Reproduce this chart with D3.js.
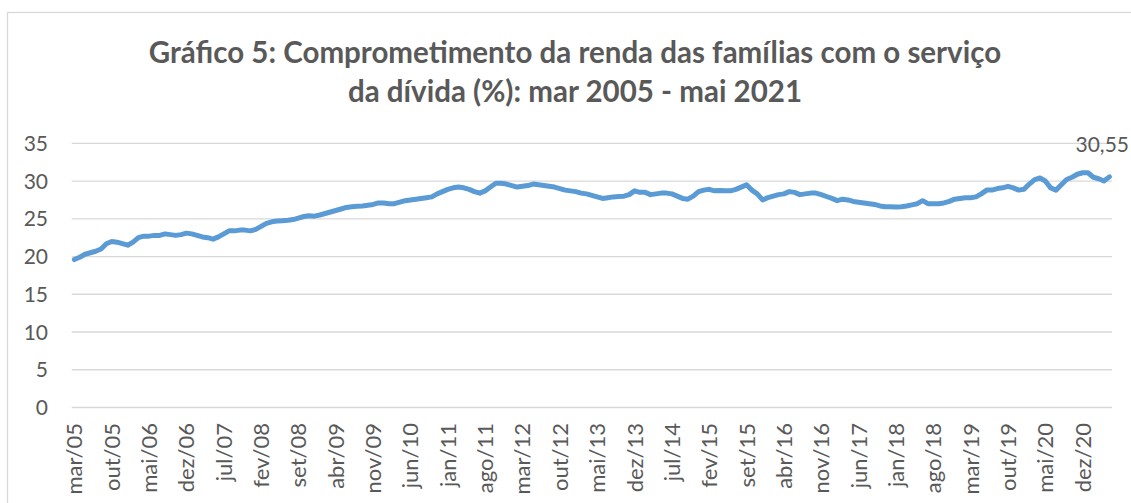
<!DOCTYPE html>
<html lang="pt">
<head>
<meta charset="UTF-8"/>
<title>Gráfico 5</title>
<script src="https://d3js.org/d3.v7.min.js"></script>
<style>
    body { margin: 0; background: #fff; }
    svg text { font-family: Lato, "Open Sans", sans-serif; fill: #595959; }
</style>
</head>
<body>
<script>
    var w = 1131;
    var h = 503;

    var months = ["jan","fev","mar","abr","mai","jun","jul","ago","set","out","nov","dez"];

    // comprometimento (%) por ano, mar/05 .. mai/21
    var v2005 = [19.6, 19.9, 20.3, 20.5, 20.7, 21.0, 21.7, 22.0, 21.9, 21.7];
    var v2006 = [21.5, 21.9, 22.5, 22.7, 22.7, 22.8, 22.8, 23.0, 22.9, 22.8, 22.9, 23.1];
    var v2007 = [23.0, 22.8, 22.6, 22.5, 22.3, 22.6, 23.0, 23.4, 23.4, 23.5, 23.5, 23.4];
    var v2008 = [23.6, 24.0, 24.4, 24.6, 24.7, 24.75, 24.8, 24.9, 25.1, 25.3, 25.4, 25.35];
    var v2009 = [25.5, 25.7, 25.9, 26.1, 26.3, 26.5, 26.6, 26.65, 26.7, 26.8, 26.9, 27.1];
    var v2010 = [27.1, 27.0, 27.0, 27.2, 27.4, 27.5, 27.6, 27.7, 27.8, 27.9, 28.3, 28.6];
    var v2011 = [28.9, 29.1, 29.2, 29.1, 28.9, 28.6, 28.4, 28.7, 29.2, 29.7, 29.7, 29.6];
    var v2012 = [29.4, 29.2, 29.3, 29.4, 29.6, 29.5, 29.4, 29.3, 29.2, 29.0, 28.8, 28.7];
    var v2013 = [28.6, 28.4, 28.3, 28.1, 27.9, 27.7, 27.8, 27.9, 27.95, 28.0, 28.2, 28.7];
    var v2014 = [28.5, 28.5, 28.2, 28.3, 28.4, 28.4, 28.3, 28.0, 27.7, 27.6, 28.0, 28.6];
    var v2015 = [28.8, 28.9, 28.7, 28.75, 28.7, 28.7, 28.9, 29.2, 29.5, 28.8, 28.3, 27.5];
    var v2016 = [27.8, 28.0, 28.2, 28.3, 28.6, 28.5, 28.2, 28.3, 28.4, 28.4, 28.2, 27.95];
    var v2017 = [27.7, 27.4, 27.6, 27.5, 27.3, 27.2, 27.1, 27.0, 26.9, 26.7, 26.6, 26.6];
    var v2018 = [26.55, 26.6, 26.7, 26.85, 27.0, 27.4, 27.0, 27.0, 27.0, 27.1, 27.3, 27.6];
    var v2019 = [27.7, 27.8, 27.8, 27.9, 28.3, 28.8, 28.8, 29.0, 29.1, 29.3, 29.1, 28.8];
    var v2020 = [28.9, 29.6, 30.2, 30.4, 30.0, 29.1, 28.8, 29.5, 30.2, 30.5, 30.9, 31.1];
    var v2021 = [31.1, 30.5, 30.3, 30.0, 30.55];

    var yTicks = [0, 5, 10, 15, 20, 25, 30, 35];
    var lastLabel = "30,55";

    var values = [].concat(v2005, v2006, v2007, v2008, v2009, v2010, v2011, v2012,
                           v2013, v2014, v2015, v2016, v2017, v2018, v2019, v2020, v2021);

    // rótulos "mar/05", "abr/05", ...
    var labels = values.map(function(d, i){
        var m = (i + 2) % 12;
        var y = 5 + Math.floor((i + 2) / 12);
        return months[m] + "/" + (y < 10 ? "0" + y : y);
    });

    var data = values.map(function(d, i){ return {label: labels[i], value: d}; });

    var svg = d3.select("body").append("svg")
        .attr("width", w)
        .attr("height", h);

    // moldura do gráfico
    svg.append("rect")
        .attr("x", 7.5).attr("y", 12.5)
        .attr("width", 1200).attr("height", 600)
        .attr("fill", "none")
        .attr("stroke", "#d9d9d9")
        .attr("stroke-width", 1.3);

    var xScale = d3.scalePoint()
        .domain(labels)
        .range([71.7, 1112])
        .padding(0.5);

    var yScale = d3.scaleLinear()
        .domain([0, 35])
        .range([407.5, 143.3]);

    // grade horizontal
    svg.append("g").selectAll("line")
        .data(yTicks)
        .enter()
        .append("line")
        .attr("x1", 71.7)
        .attr("x2", 1112)
        .attr("y1", function(d){ return yScale(d); })
        .attr("y2", function(d){ return yScale(d); })
        .attr("stroke", "#d9d9d9")
        .attr("stroke-width", 1.3);

    // eixo y
    svg.append("g").selectAll("text")
        .data(yTicks)
        .enter()
        .append("text")
        .attr("x", 48)
        .attr("y", function(d){ return yScale(d); })
        .attr("dy", "0.36em")
        .attr("text-anchor", "end")
        .style("font-size", "21px")
        .text(function(d){ return d; });

    // eixo x: um rótulo a cada 7 meses
    var xLabels = labels.filter(function(d, i){ return i % 7 === 0; });

    svg.append("g").selectAll("text")
        .data(xLabels)
        .enter()
        .append("text")
        .attr("transform", function(d){
            return "translate(" + (xScale(d) + 8) + ",423) rotate(-90)";
        })
        .attr("text-anchor", "end")
        .style("font-size", "22px")
        .text(function(d){ return d; });

    var line = d3.line()
        .x(function(d){ return xScale(d.label); })
        .y(function(d){ return yScale(d.value); });

    svg.append("path")
        .datum(data)
        .attr("d", line)
        .attr("fill", "none")
        .attr("stroke", "#5b9bd5")
        .attr("stroke-width", 5)
        .attr("stroke-linejoin", "round")
        .attr("stroke-linecap", "round");

    // rótulo do último valor (mantido dentro da janela)
    var last = data[data.length - 1];
    svg.append("text")
        .attr("x", w - 2)
        .attr("y", 152)
        .attr("text-anchor", "end")
        .style("font-size", "21px")
        .text(lastLabel);

    // título
    var title = svg.append("text")
        .attr("text-anchor", "middle")
        .style("font-size", "29.5px")
        .style("font-weight", "bold");
    title.append("tspan")
        .attr("x", 575).attr("y", 63)
        .text("Gráfico 5: Comprometimento da renda das famílias com o serviço");
    title.append("tspan")
        .attr("x", 575).attr("y", 102)
        .text("da dívida (%): mar 2005 - mai 2021");
</script>
</body>
</html>
